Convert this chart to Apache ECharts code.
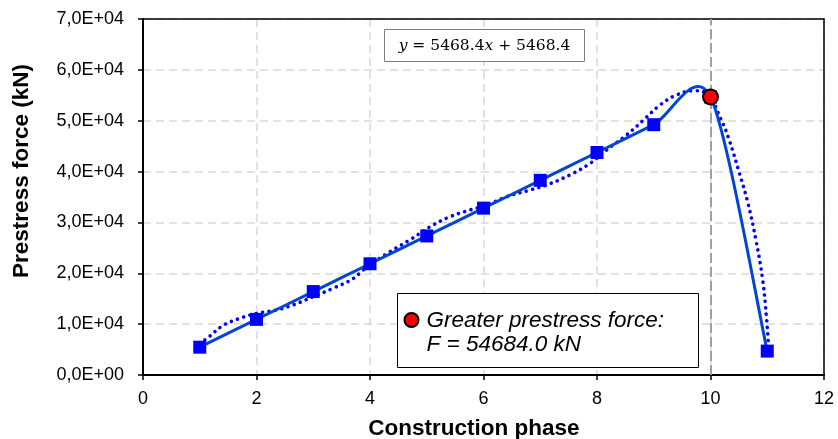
<!DOCTYPE html>
<html>
<head>
<meta charset="utf-8">
<script src="https://cdn.jsdelivr.net/npm/echarts@6/dist/echarts.min.js"></script>
<style>
  html, body { margin: 0; padding: 0; background: #fff; overflow: hidden; }
  #chart { width: 838px; height: 439px; }
</style>
</head>
<body>
<div id="chart"></div>
<script>
// Construction phases and the prestress force applied at each one (kN)
const phases = [1, 2, 3, 4, 5, 6, 7, 8, 9, 10, 11];
const forces = [5468.4, 10936.8, 16405.2, 21873.6, 27342.0, 32810.4, 38278.8, 43747.2, 49215.6, 54684.0, 4700];

// Polynomial trend curve, sampled along its path [phase, force]
const trendX = [1.0, 1.15, 1.42, 1.71, 2.0, 2.36, 2.65, 3.0, 3.35, 3.71, 3.88, 4.35, 4.70, 5.06, 5.41, 5.76, 6.06, 6.41, 6.82, 7.11, 7.52, 7.88, 8.17, 8.52, 8.82, 9.11, 9.40, 9.70, 9.93, 10.19, 10.33, 10.51, 10.66, 10.80, 10.92, 10.99, 11.02];
const trendY = [6100, 7400, 9800, 11150, 12100, 12800, 13800, 15400, 17050, 19000, 20640, 24240, 26540, 29160, 31130, 32440, 33420, 35060, 36370, 37360, 39320, 41620, 44240, 47190, 50140, 53090, 55050, 55900, 55390, 50140, 46200, 39660, 33760, 26540, 18680, 10800, 6200];

// Peak prestress force
const peakPhase = 10;
const peakForce = 54684.0;

// Linear fit coefficients shown in the equation box
const fitSlope = 5468.4;
const fitIntercept = 5468.4;

// Axis ticks
const xTicks = [0, 2, 4, 6, 8, 10, 12];
const yTickLabels = ['0,0E+00', '1,0E+04', '2,0E+04', '3,0E+04', '4,0E+04', '5,0E+04', '6,0E+04', '7,0E+04'];

const chart = echarts.init(document.getElementById('chart'), null, { renderer: 'canvas', width: 838, height: 439 });

const gridDash = { color: '#D9D9D9', width: 1.5, type: [8, 5] };
const labelFont = { fontFamily: 'Liberation Sans', fontSize: 18, color: '#000' };
const titleFont = 'bold 22.5px "Liberation Sans"';
const TOP = 100;
const TENSION = 1 / 7;

// Smoothed curve through the measured points (cardinal spline),
// built in pixel space from the axis scales.
function renderSmoothCurve(params, api) {
  const pts = phases.map((x, i) => api.coord([x, forces[i]]));
  let d = 'M' + pts[0][0] + ',' + pts[0][1];
  for (let i = 0; i < pts.length - 1; i++) {
    const p0 = pts[Math.max(i - 1, 0)];
    const p1 = pts[i];
    const p2 = pts[i + 1];
    const p3 = pts[Math.min(i + 2, pts.length - 1)];
    const c1x = p1[0] + (p2[0] - p0[0]) * TENSION;
    const c1y = p1[1] + (p2[1] - p0[1]) * TENSION;
    const c2x = p2[0] - (p3[0] - p1[0]) * TENSION;
    const c2y = p2[1] - (p3[1] - p1[1]) * TENSION;
    d += ' C' + c1x + ',' + c1y + ' ' + c2x + ',' + c2y + ' ' + p2[0] + ',' + p2[1];
  }
  return {
    type: 'path',
    shape: { pathData: d },
    style: { stroke: '#0046D2', lineWidth: 3, fill: null, lineJoin: 'round' }
  };
}

const option = {
  animation: false,
  backgroundColor: '#fff',
  grid: { left: 143, top: 19, width: 681, height: 356 },
  xAxis: [
    {
      type: 'value',
      min: xTicks[0], max: xTicks[xTicks.length - 1], interval: 2,
      axisLine: { show: true, onZero: false, lineStyle: { color: '#000', width: 2 } },
      axisTick: { show: true, inside: false, length: 5, lineStyle: { color: '#000', width: 1.5 } },
      axisLabel: Object.assign({ margin: 15 }, labelFont),
      splitLine: { show: true, lineStyle: gridDash }
    },
    {
      type: 'value', position: 'top',
      min: xTicks[0], max: xTicks[xTicks.length - 1], interval: 2,
      axisLine: { show: true, onZero: false, lineStyle: { color: '#000', width: 1.5 } },
      axisTick: { show: false }, axisLabel: { show: false }, splitLine: { show: false }
    }
  ],
  yAxis: [
    {
      type: 'value',
      min: 0, max: 70000, interval: 10000,
      axisLine: { show: true, onZero: false, lineStyle: { color: '#000', width: 2 } },
      axisTick: { show: true, inside: false, length: 5, lineStyle: { color: '#000', width: 1.5 } },
      axisLabel: Object.assign({ margin: 19, formatter: (v) => yTickLabels[Math.round(v / 10000)] }, labelFont),
      splitLine: { show: true, lineStyle: gridDash }
    },
    {
      type: 'value', position: 'right',
      min: 0, max: 70000, interval: 10000,
      axisLine: { show: true, onZero: false, lineStyle: { color: '#000', width: 1.5 } },
      axisTick: { show: false }, axisLabel: { show: false }, splitLine: { show: false }
    }
  ],
  series: [
    {
      name: 'trend',
      type: 'line',
      data: trendX.map((x, i) => [x, trendY[i]]),
      smooth: 0.4,
      showSymbol: false,
      symbol: 'none',
      lineStyle: { color: '#0000FF', width: 3.6, type: [0.01, 6.5], cap: 'round' },
      z: 2,
      markLine: {
        silent: true,
        symbol: 'none',
        label: { show: false },
        lineStyle: { color: '#A0A0A0', width: 2, type: [10, 4] },
        data: [{ xAxis: peakPhase }]
      }
    },
    {
      name: 'force-curve',
      type: 'custom',
      renderItem: renderSmoothCurve,
      data: [[phases[0], forces[0]]],
      clip: true,
      z: 3
    },
    {
      name: 'force',
      type: 'scatter',
      data: phases.map((x, i) => [x, forces[i]]),
      symbol: 'rect',
      symbolSize: 13,
      itemStyle: { color: '#0000FF', opacity: 1 },
      z: 4
    },
    {
      name: 'peak',
      type: 'scatter',
      data: [[peakPhase, peakForce]],
      symbol: 'circle',
      symbolSize: 15,
      itemStyle: { color: '#FF0000', borderColor: '#000', borderWidth: 2, opacity: 1 },
      z: 10
    }
  ],
  graphic: [
    {
      type: 'text', z: TOP,
      x: 474, y: 429,
      style: { text: 'Construction phase', align: 'center', verticalAlign: 'middle', font: titleFont, fill: '#000' }
    },
    {
      type: 'text', z: TOP,
      x: 22, y: 171, rotation: Math.PI / 2,
      style: { text: 'Prestress force (kN)', align: 'center', verticalAlign: 'middle', font: titleFont, fill: '#000' }
    },
    {
      type: 'group',
      left: 384, top: 29, z: TOP,
      children: [
        {
          type: 'rect', z: TOP,
          shape: { x: 0, y: 0, width: 200, height: 32 },
          style: { fill: '#fff', stroke: '#7F7F7F', lineWidth: 1 }
        },
        {
          type: 'text', z: TOP + 1,
          x: 100, y: 16,
          style: {
            text: '{i|y} = ' + fitSlope.toFixed(1) + '{i|x} + ' + fitIntercept.toFixed(1),
            align: 'center', verticalAlign: 'middle',
            fontFamily: 'DejaVu Serif', fontSize: 15.5, fill: '#000',
            rich: { i: { fontFamily: 'DejaVu Serif', fontStyle: 'italic', fontSize: 15.5, fill: '#000' } }
          }
        }
      ]
    },
    {
      type: 'group',
      left: 397, top: 293, z: TOP,
      children: [
        {
          type: 'rect', z: TOP,
          shape: { x: 0, y: 0, width: 301, height: 74 },
          style: { fill: '#fff', stroke: '#000', lineWidth: 1 }
        },
        {
          type: 'circle', z: TOP + 1,
          shape: { cx: 14, cy: 26.5, r: 7 },
          style: { fill: '#FF0000', stroke: '#000', lineWidth: 2 }
        },
        {
          type: 'text', z: TOP + 1,
          x: 29, y: 27,
          style: {
            text: 'Greater prestress force:',
            verticalAlign: 'middle',
            fontFamily: 'Liberation Sans', fontStyle: 'italic', fontSize: 22.5, fill: '#000'
          }
        },
        {
          type: 'text', z: TOP + 1,
          x: 29, y: 51,
          style: {
            text: 'F = ' + peakForce.toFixed(1) + ' kN',
            verticalAlign: 'middle',
            fontFamily: 'Liberation Sans', fontStyle: 'italic', fontSize: 22.5, fill: '#000'
          }
        }
      ]
    }
  ]
};

chart.setOption(option);
</script>
</body>
</html>
